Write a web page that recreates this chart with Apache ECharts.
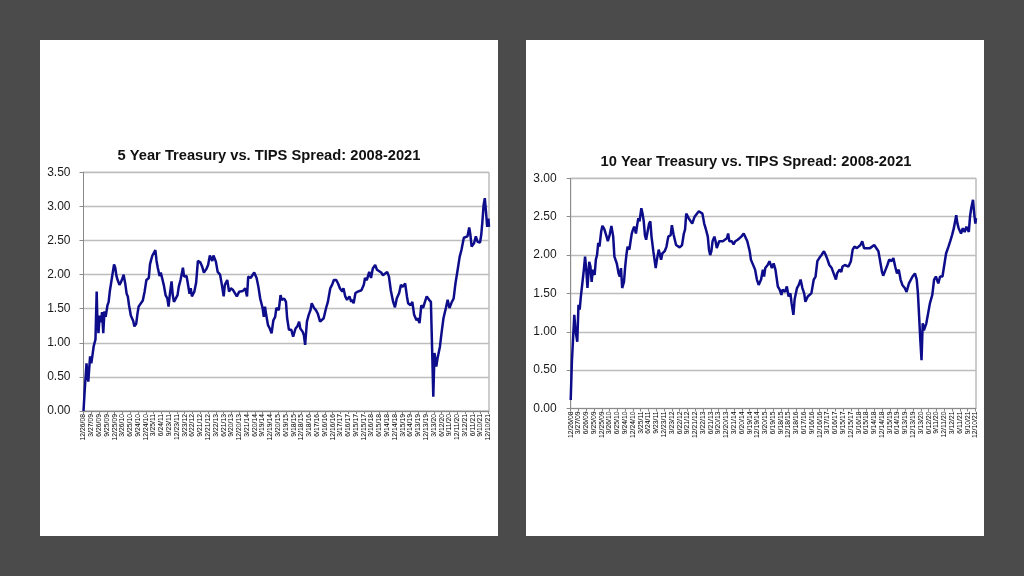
<!DOCTYPE html>
<html>
<head>
<meta charset="utf-8">
<script src="https://cdn.jsdelivr.net/npm/echarts@6/dist/echarts.min.js"></script>
<style>
html,body{margin:0;padding:0;background:#4b4b4b;}
#c{width:1024px;height:576px;}
</style>
</head>
<body>
<div id="c"></div>
<script>
// Weekly date axis: first Friday and number of weeks
const startDate = '2008-12-26';
const weekCount = 678;
const labelEvery = 13;

const title5 = '5 Year Treasury vs. TIPS Spread: 2008-2021';
const title10 = '10 Year Treasury vs. TIPS Spread: 2008-2021';

const yTicks5 = [0, 3.5, 0.5];
const yTicks10 = [0, 3, 0.5];

// 5-year spread: week offset from startDate, value (%)
const weeks5 = [0,2,5,7,8,11,13,15,17,20,22,23,25,27,29,31,33,35,37,40,42,44,47,51,53,55,57,60,62,64,67,70,72,74,76,79,81,83,85,88,90,92,95,99,102,105,109,111,113,115,118,120,122,124,127,129,132,134,137,140,142,144,147,149,151,154,157,159,162,166,168,170,172,174,177,179,181,185,188,191,195,198,201,205,208,211,215,217,
219,221,224,228,231,234,236,240,243,246,250,253,256,260,263,266,270,273,275,279,282,285,289,292,295,299,301,303,305,308,311,314,317,320,322,326,329,331,335,338,340,343,347,350,354,357,360,362,366,368,370,373,376,379,381,385,388,391,395,398,401,405,408,412,415,418,422,425,428,432,434,437,440,444,447,
448,451,454,458,461,464,468,470,473,477,480,483,487,490,493,497,500,503,507,510,513,517,520,523,527,530,533,537,540,542,546,549,552,556,558,561,564,567,570,573,577,580,582,584,586,589,591,595,598,601,605,608,611,615,618,621,625,628,631,635,638,641,644,646,648,652,655,658,662,664,666,668,670,672,674,676,677];
const spread5 = [0.00,0.30,0.70,0.50,0.43,0.80,0.70,0.82,0.95,1.05,1.75,1.40,1.14,1.40,1.30,1.45,1.14,1.46,1.38,1.55,1.60,1.76,1.77,2.15,2.10,1.98,1.92,1.85,1.88,1.92,2.00,1.85,1.72,1.68,1.55,1.40,1.38,1.32,1.24,1.28,1.42,1.53,1.55,1.62,1.75,1.92,1.95,2.15,2.22,2.28,2.30,2.36,2.20,2.10,1.98,2.03,2.04,1.85,1.70,1.65,1.53,1.70,1.90,1.70,1.60,1.62,1.70,1.82,1.92,2.10,1.97,1.95,1.98,1.88,1.72,1.80,1.68,1.75,1.88,2.20,2.18,2.12,2.03,2.08,2.14,2.28,2.20,2.28,
2.30,2.19,2.04,2.00,1.85,1.68,1.85,1.92,1.75,1.80,1.77,1.79,1.68,1.75,1.77,1.76,1.80,1.68,1.97,1.95,1.97,2.03,1.95,1.82,1.65,1.51,1.38,1.53,1.41,1.26,1.21,1.14,1.33,1.38,1.51,1.48,1.70,1.63,1.65,1.60,1.36,1.19,1.19,1.09,1.21,1.24,1.31,1.21,1.16,1.11,0.97,1.31,1.41,1.48,1.58,1.51,1.48,1.43,1.31,1.29,1.36,1.51,1.60,1.80,1.85,1.92,1.92,1.87,1.80,1.75,1.80,1.68,1.63,1.68,1.60,
1.63,1.58,1.73,1.75,1.73,1.77,1.85,1.95,1.92,2.04,1.95,2.09,2.14,2.07,2.07,2.03,1.99,2.00,2.04,1.97,1.77,1.60,1.52,1.65,1.73,1.85,1.82,1.87,1.68,1.58,1.55,1.60,1.41,1.33,1.36,1.29,1.55,1.51,1.60,1.68,1.63,1.60,0.92,0.21,0.85,0.65,0.77,0.94,1.16,1.36,1.51,1.63,1.51,1.60,1.65,1.87,2.09,2.26,2.36,2.54,2.52,2.56,2.69,2.58,2.41,2.46,2.56,2.48,2.47,2.58,2.78,3.02,3.12,2.92,2.70,2.82,2.70];

// 10-year spread
const weeks10 = [0,2,4,6,8,11,13,15,17,19,22,24,26,28,31,33,35,37,40,42,44,46,48,51,53,56,60,62,65,68,71,73,75,77,80,82,84,86,89,91,93,95,98,100,102,104,106,109,111,113,115,118,120,122,124,126,129,131,133,135,138,140,142,144,147,149,151,153,157,160,163,167,169,172,176,179,182,186,189,191,193,197,200,203,207,210,214,
217,220,223,226,229,231,233,235,237,240,242,244,248,251,254,257,261,263,265,269,272,275,279,282,285,289,292,295,299,301,304,308,311,314,318,321,323,325,329,332,336,339,342,346,349,352,354,358,361,364,367,369,372,374,378,381,384,387,390,392,396,399,402,406,409,412,416,419,423,426,429,432,436,439,443,
445,449,452,454,458,461,464,468,471,474,478,481,484,487,490,493,496,500,503,507,510,514,516,518,520,522,526,529,532,536,539,542,545,548,551,554,558,561,565,568,571,575,578,580,582,584,586,588,590,594,597,600,604,607,610,614,617,621,624,627,631,634,637,640,644,646,648,652,655,658,661,665,667,669,672,674,676,677];
const spread10 = [0.11,0.61,0.63,1.22,1.02,0.87,1.35,1.29,1.46,1.48,1.81,1.98,1.81,1.57,1.91,1.85,1.65,1.81,1.74,1.94,2.00,2.16,2.11,2.31,2.38,2.34,2.24,2.18,2.26,2.38,2.24,1.98,1.96,1.89,1.76,1.72,1.83,1.57,1.65,1.85,2.00,2.11,2.07,2.18,2.28,2.33,2.37,2.28,2.39,2.48,2.44,2.61,2.54,2.44,2.26,2.20,2.33,2.41,2.44,2.24,2.05,1.94,1.83,1.94,2.07,2.05,1.94,2.02,2.05,2.11,2.24,2.26,2.39,2.26,2.13,2.11,2.10,2.13,2.28,2.33,2.54,2.48,2.48,2.41,2.50,2.52,2.57,
2.56,2.54,2.41,2.33,2.24,2.07,2.00,2.05,2.18,2.24,2.18,2.09,2.18,2.20,2.18,2.18,2.22,2.28,2.18,2.18,2.14,2.18,2.20,2.22,2.24,2.28,2.26,2.18,2.05,1.94,1.92,1.81,1.68,1.61,1.68,1.81,1.72,1.83,1.87,1.92,1.83,1.89,1.81,1.59,1.55,1.48,1.55,1.52,1.59,1.46,1.50,1.37,1.22,1.42,1.57,1.61,1.68,1.57,1.50,1.39,1.46,1.46,1.50,1.68,1.72,1.92,1.97,2.00,2.05,2.00,1.94,1.87,1.83,1.81,1.68,
1.76,1.81,1.78,1.85,1.87,1.85,1.85,1.92,2.07,2.11,2.09,2.07,2.13,2.18,2.09,2.11,2.09,2.09,2.11,2.13,2.13,2.05,1.96,1.87,1.78,1.73,1.81,1.87,1.94,1.92,1.96,1.85,1.76,1.81,1.68,1.61,1.57,1.52,1.63,1.61,1.72,1.76,1.68,1.50,1.20,0.89,0.63,1.11,1.02,1.11,1.24,1.37,1.48,1.68,1.72,1.63,1.72,1.72,1.87,2.02,2.11,2.18,2.26,2.35,2.52,2.41,2.35,2.28,2.35,2.30,2.37,2.30,2.50,2.61,2.72,2.54,2.41,2.48];

function buildDates() {
  const out = [];
  const t0 = Date.parse(startDate + 'T00:00:00Z');
  for (let i = 0; i < weekCount; i++) {
    const d = new Date(t0 + i * 7 * 86400000);
    out.push((d.getUTCMonth() + 1) + '/' + d.getUTCDate() + '/' + String(d.getUTCFullYear()).slice(2));
  }
  return out;
}
const dates = buildDates();

const FONT = '"Liberation Sans", Arial, sans-serif';
const LINE = '#0d0d8c';

function xAxis(gridIndex) {
  return {
    type: 'category', gridIndex, data: dates, boundaryGap: false,
    axisLine: { lineStyle: { color: '#8a8a8a', width: 1 } },
    axisTick: { show: true, interval: labelEvery - 1, length: 3, lineStyle: { color: '#8a8a8a' } },
    axisLabel: { interval: labelEvery - 1, rotate: 90, fontSize: 6.8, color: '#000', margin: 3, fontFamily: FONT },
    splitLine: { show: false }
  };
}
function yAxis(gridIndex, t, margin) {
  return {
    type: 'value', gridIndex, min: t[0], max: t[1], interval: t[2],
    axisLine: { show: true, lineStyle: { color: '#8a8a8a', width: 1 } },
    axisTick: { show: true, length: 4, lineStyle: { color: '#8a8a8a' } },
    axisLabel: { fontSize: 12, color: '#1a1a1a', margin, fontFamily: FONT, formatter: v => v.toFixed(2) },
    splitLine: { show: true, lineStyle: { color: '#bdbdbd', width: 1.3 } }
  };
}

const chart = echarts.init(document.getElementById('c'));
chart.setOption({
  backgroundColor: '#4b4b4b',
  animation: false,
  graphic: [
    { type: 'rect', shape: { x: 40, y: 40, width: 458, height: 496 }, style: { fill: '#ffffff' }, z: -10 },
    { type: 'rect', shape: { x: 526, y: 40, width: 458, height: 496 }, style: { fill: '#ffffff' }, z: -10 },
    { type: 'text', x: 269, y: 155.5, style: { text: title5, font: 'bold 14.7px ' + FONT, fill: '#111', textAlign: 'center', textVerticalAlign: 'middle' } },
    { type: 'text', x: 756, y: 161.5, style: { text: title10, font: 'bold 14.7px ' + FONT, fill: '#111', textAlign: 'center', textVerticalAlign: 'middle' } }
  ],
  grid: [
    { left: 83.5, top: 172.3, width: 405.5, height: 238.7, show: true, borderColor: '#9a9a9a', borderWidth: 1, backgroundColor: 'transparent' },
    { left: 570.7, top: 178.3, width: 405.3, height: 230.2, show: true, borderColor: '#9a9a9a', borderWidth: 1, backgroundColor: 'transparent' }
  ],
  xAxis: [xAxis(0), xAxis(1)],
  yAxis: [yAxis(0, yTicks5, 13), yAxis(1, yTicks10, 14)],
  series: [
    { type: 'line', xAxisIndex: 0, yAxisIndex: 0, showSymbol: false, symbol: 'none',
      lineStyle: { color: LINE, width: 2.5 }, data: weeks5.map((w, i) => [w, spread5[i]]) },
    { type: 'line', xAxisIndex: 1, yAxisIndex: 1, showSymbol: false, symbol: 'none',
      lineStyle: { color: LINE, width: 2.5 }, data: weeks10.map((w, i) => [w, spread10[i]]) }
  ]
});
</script>
</body>
</html>
